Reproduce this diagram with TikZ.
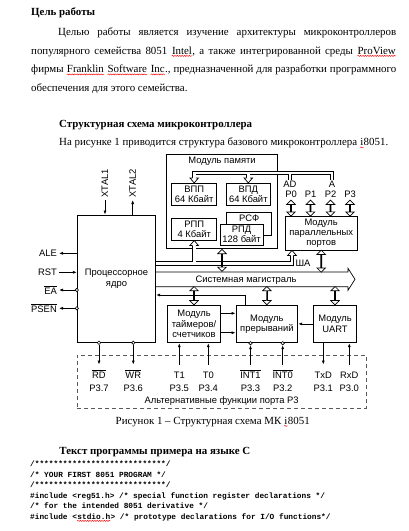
\documentclass[tikz,border=0pt]{standalone}
\usepackage{fontspec}
\usetikzlibrary{arrows.meta,positioning,shapes.arrows,calc,decorations.pathmorphing}
\setmainfont{Liberation Serif}
\setmonofont{Liberation Mono}
\newfontfamily\arialf{Liberation Sans}
\newcommand\sq[1]{\tikz[baseline=(w.base)]{\node[inner sep=0pt,anchor=base west] (w) at (0,0) {#1};
  \draw[red,line width=.45pt,decorate,decoration={snake,amplitude=.55pt,segment length=2.4pt}]
    ([yshift=-1.9pt]w.base west) -- ([yshift=-1.9pt]w.base east);}}
\newcommand\ovl[1]{$\overline{\hbox{#1}}$}

\begin{document}
\begin{tikzpicture}[x=1pt,y=-1pt,>={Latex[length=4pt,width=3pt]},
  every node/.style={inner sep=0pt},
  txt/.style={anchor=base west,font=\fontsize{10.9}{12}\selectfont},
  hd/.style={txt,font=\fontsize{10.9}{12}\selectfont\bfseries},
  code/.style={anchor=base west,font=\ttfamily\bfseries\fontsize{7.8}{9}\selectfont},
  dia/.style={font=\arialf\fontsize{9.4}{10.2}\selectfont},
  blk/.style={dia,draw,line width=.9pt,align=center,fill=white},
  dbl/.style={double arrow,draw,fill=white,line width=.7pt,rotate=90,minimum width=8.6pt,
    double arrow head extend=2.6pt,double arrow tip angle=90,inner sep=0pt},
  busb/.style={line width=4.2pt},
  busw/.style={line width=2.6pt,white},
  bh/.pic={\filldraw[fill=white,line width=.7pt] (-1.7,0) -- (-4.3,0) -- (0,-5) -- (4.3,0) -- (1.7,0);},
  sig/.style={line width=.7pt},
  dot/.style={circle,draw,fill=white,line width=.6pt,minimum size=3.4pt,inner sep=0pt}]
\useasboundingbox (0,0) rectangle (408,531);

% text of the page
\node[hd] (t0) at (31,15) {Цель работы};
\node[txt] (t1) at (58,35.5) {\hbox to 338pt{Целью \hfill работы \hfill является \hfill изучение \hfill архитектуры \hfill микроконтроллеров}};
\node[txt] (t2) at (31,54) {\hbox to 365pt{популярного \hfill семейства \hfill 8051 \hfill \sq{Intel}, \hfill а \hfill также \hfill интегрированной \hfill среды \hfill \sq{ProView}}};
\node[txt] (t3) at (31,72.5) {\hbox to 365pt{фирмы \hfill \sq{Franklin} \hfill \sq{Software} \hfill \sq{Inc}., \hfill предназначенной \hfill для \hfill разработки \hfill программного}};
\node[txt] (t4) at (31,91) {обеспечения для этого семейства.};
\node[hd] (t5) at (59,127) {Структурная схема микроконтроллера};
\node[txt] (t6) at (59,145.5) {На рисунке 1 приводится структура базового микроконтроллера \sq{i}8051.};

% blocks
\node[blk,minimum width=78.4,minimum height=127.3] (core) at (116.5,278.65) {Процессорное\\ядро};
\node[blk,minimum width=110.6,minimum height=94.3] (mem) at (222,201.2) {};
\node[dia,below=3.5pt of mem.north] (memt) {Модуль памяти};
\node[blk,minimum width=45,minimum height=21.7] (vpp) at (194.2,194.2) {ВПП\\64 Кбайт};
\node[blk,minimum width=43.3,minimum height=21.7] (vpd) at (248.3,194.2) {ВПД\\64 Кбайт};
\node[blk,minimum width=45,minimum height=22.3] (rsf) at (249.2,223.8) {};
\node[dia,below=2.2pt of rsf.north] (rsft) {РСФ};
\node[blk,minimum width=43.3,minimum height=21] (rpd) at (241.6,234.5) {РПД\\128 байт};
\node[blk,minimum width=45,minimum height=21.7] (rpp) at (194.2,229.2) {РПП\\4 Кбайт};
\node[blk,minimum width=72.3,minimum height=33.3] (pp) at (321.2,233.3) {Модуль\\параллельных\\портов};
\node[blk,minimum width=53.4,minimum height=37.7] (tim) at (194,323.9) {Модуль\\таймеров/\\счетчиков};
\node[blk,minimum width=61.7,minimum height=37.7] (intr) at (266.9,323.9) {Модуль\\прерываний};
\node[blk,minimum width=43.4,minimum height=37.7] (uart) at (335,323.9) {Модуль\\UART};

% system bus
\coordinate (sbn) at (core.east |- 0,272);
\coordinate (sbs) at (core.east |- 0,286.7);
\draw[fill=white,line width=.7pt] (sbn) -- (348,272) -- (348,268.3) -- (355,279.3) -- (348,290.3) -- (348,286.7) -- (sbs);
\node[dia] (sbt) at (246,280) {Системная магистраль};

% port labels
\node[dia,anchor=base] (ad) at (290,187.5) {AD};
\node[dia,anchor=base] (a2) at (332,187.5) {A};
\foreach \x/\n in {291/0,310.5/1,330.5/2,350/3}
  \node[dia,anchor=base] (p\n) at (\x,197.5) {P\n};
\node[dia] (sha) at (303,263) {ША};

% buses
\foreach \s in {busb,busw} {
  \draw[\s] ([yshift=5pt]vpp.north) -- (vpp.north |- 0,173) -- (332,173) -- (332,180);
  \draw[\s] ([yshift=5pt]vpd.north) -- (vpd.north |- 0,173);
  \draw[\s] (290,173) -- (290,180);
  \draw[\s] (core.east |- 0,263.5) -- (292,263.5) -- ([yshift=-5pt]pp.south -| 292,0);
  \draw[\s] (rpp.south |- 0,263.5) -- ([yshift=-5pt]rpp.south);
}
\pic[rotate=180] at ([yshift=5pt]vpp.north) {bh};
\pic[rotate=180] at ([yshift=5pt]vpd.north) {bh};
\pic at ([yshift=-5pt]rpp.south) {bh};
\pic at ([yshift=-5pt]pp.south -| 292,0) {bh};

\node[dbl,minimum height=22] (mb) at ($(mem.south)!.5!(mem.south |- sbn)$) {};
\node[dbl,minimum height=22] (pb) at ($(pp.south)!.5!(pp.south |- sbn)$) {};
\node[dbl,minimum height=18.3] (tb) at ($(tim.north)!.5!(tim.north |- sbs)$) {};
\node[dbl,minimum height=18.3] (ib) at ($(intr.north)!.5!(intr.north |- sbs)$) {};
\node[dbl,minimum height=18.3] (ub) at ($(uart.north)!.5!(uart.north |- sbs)$) {};
\foreach \n in {0,...,3}
  \node[dbl,minimum height=16] (pa\n) at ($(p\n.south)!.5!(p\n.south |- pp.north)+(0,1.2)$) {};

% core signals
\node[dia,rotate=90,anchor=west] (xt1) at (105,197.5) {XTAL1};
\node[dia,rotate=90,anchor=west] (xt2) at (132.7,197.5) {XTAL2};
\draw[sig,->] ([yshift=-2.5pt]xt1.west) -- (xt1.west |- core.north);
\draw[sig,->] (xt2.west |- core.north) -- ([yshift=-2.5pt]xt2.west);
\node[dia,anchor=east] (ale) at (57,253.3) {ALE};
\node[dia,anchor=east] (rst) at (57,272.3) {RST};
\node[dia,anchor=east] (ea) at (57,290) {\ovl{EA}};
\node[dia,anchor=east] (psen) at (57,308.3) {\ovl{PSEN}};
\draw[sig,->] (core.west |- ale) -- ([xshift=2pt]ale.east);
\draw[sig,->] ([xshift=2pt]rst.east) -- (core.west |- rst);
\node[dot] (ead) at (core.west |- ea) {};
\node[dot] (psd) at (core.west |- psen) {};
\draw[sig,->] (ead) -- ([xshift=2pt]ea.east);
\draw[sig,->] (psd) -- ([xshift=2pt]psen.east);

% internal signals
\draw[sig,->] (intr.north -| 245,0) |- (core.east |- 0,295);
\draw[sig,->] (tim.east |- 0,313.3) -- (intr.west |- 0,313.3);
\draw[sig,->] (tim.east |- 0,332.7) -- (intr.west |- 0,332.7);
\draw[sig,->] (uart.west) -- (intr.east);

% port 3
\node[draw=black!65,line width=.7pt,dash pattern=on 4pt off 3pt,minimum width=288.7,minimum height=53.3] (p3box) at (221.65,381.65) {};
\node[dia,anchor=base] (rd) at (99,378.5) {\ovl{RD}};
\node[dia,anchor=base] (wr) at (133.3,378.5) {\ovl{WR}};
\node[dia,anchor=base] (t1l) at (179.3,378.5) {T1};
\node[dia,anchor=base] (t0l) at (208.3,378.5) {T0};
\node[dia,anchor=base] (i1) at (250.5,378.5) {\ovl{INT1}};
\node[dia,anchor=base] (i0) at (282.7,378.5) {\ovl{INT0}};
\node[dia,anchor=base] (txd) at (323.3,378.5) {TxD};
\node[dia,anchor=base] (rxd) at (349.3,378.5) {RxD};
\foreach \n/\x/\t in {rd/99/P3.7,wr/133.3/P3.6,t1l/179.3/P3.5,t0l/208.3/P3.4,i1/250.5/P3.3,i0/282.7/P3.2,txd/323.3/P3.1,rxd/349.3/P3.0}
  \node[dia,anchor=base] (\n p) at (\x,391.7) {\t};
\node[dia,anchor=base] (p3t) at (221.6,403.4) {Альтернативные функции порта P3};
\node[dot] (rdd) at (core.south -| rd) {};
\node[dot] (wrd) at (core.south -| wr) {};
\node[dot] (i1d) at (intr.south -| i1) {};
\node[dot] (i0d) at (intr.south -| i0) {};
\draw[sig,->] (rdd) -- (rd |- 0,364.5);
\draw[sig,->] (wrd) -- (wr |- 0,364.5);
\draw[sig,->] (t1l |- 0,364.5) -- (tim.south -| t1l);
\draw[sig,->] (t0l |- 0,364.5) -- (tim.south -| t0l);
\draw[sig,->] (i1 |- 0,364.5) -- (i1d);
\draw[sig,->] (i0 |- 0,364.5) -- (i0d);
\draw[sig,->] (uart.south -| txd) -- (txd |- 0,364.5);
\draw[sig,->] (rxd |- 0,364.5) -- (uart.south -| rxd);

% caption and code
\node[txt,anchor=base] (cap) at (212.7,424) {Рисунок 1 – Структурная схема МК \sq{i}8051};
\node[hd] (t7) at (59.3,454) {Текст программы примера на языке С};
\foreach \t [count=\i] in {/****************************/,
  /* YOUR FIRST 8051 PROGRAM */,
  /****************************/,
  {\#include <reg51.h> /* special function register declarations */},
  /* for the intended 8051 derivative */,
  {\#include <\sq{stdio.h}> /* prototype declarations for I/O functions*/}}
  \node[code] (c\i) at (30,456+10.5*\i) {\t};
\end{tikzpicture}
\end{document}
